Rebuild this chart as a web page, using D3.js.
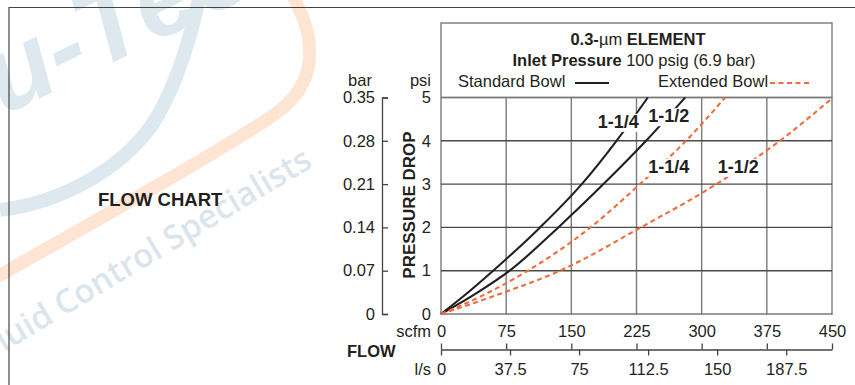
<!DOCTYPE html>
<html><head><meta charset="utf-8">
<script src="https://cdn.jsdelivr.net/npm/d3@7"></script>
<style>
html,body{margin:0;padding:0;background:#fff;}
svg{display:block;font-family:"Liberation Sans",Arial,Helvetica,sans-serif;}
</style></head>
<body>
<svg id="c" width="855" height="385"></svg>
<script>
// ---- data ----
const scfmTicks = [0, 75, 150, 225, 300, 375, 450];
const lpsTicks = [0, 37.5, 75, 112.5, 150, 187.5];
const psiTicks = [0, 1, 2, 3, 4, 5];
const barTicks = [0, 0.07, 0.14, 0.21, 0.28, 0.35];
const seriesNames = ["Standard 1-1/4", "Standard 1-1/2", "Extended 1-1/4", "Extended 1-1/2"];
const std114 = [[0,0],[30,0.48],[60,1.0],[114,2.0],[162,3.0],[202,4.0],[238,5.0]];
const std112 = [[0,0],[40,0.47],[79,1.0],[135,2.0],[187,3.0],[236,4.0],[281,5.0]];
const ext114 = [[0,0],[45,0.4],[100,1.0],[172,2.0],[229,3.0],[282,4.0],[327,5.0]];
const ext112 = [[0,0],[70,0.48],[137,1.0],[230,2.0],[317,3.0],[390,4.0],[450,4.98]];
const curveLabels = [
  {text:"1-1/4", scfm:204, psi:4.30},
  {text:"1-1/2", scfm:262, psi:4.43},
  {text:"1-1/4", scfm:262, psi:3.26},
  {text:"1-1/2", scfm:342, psi:3.26}
];
const LPS_PER_SCFM = 1/2.1189;

// ---- setup ----
const svg = d3.select("#c");
const ink = "#231f20", orange = "#f26b3a", grid = "#7a7a7a";
const x = d3.scaleLinear().domain([0,450]).range([441,832]);
const xl = d3.scaleLinear().domain([0,450*LPS_PER_SCFM]).range([441,832]);
const y = d3.scaleLinear().domain([0,5]).range([314,97.5]);
const yb = d3.scaleLinear().domain([0,0.35]).range([314,97.5]);

// ---- watermark ----
const wm = svg.append("g").attr("class","watermark");
wm.append("text").attr("transform","translate(-66,150) rotate(-26)")
  .attr("font-size",108).attr("font-weight","bold").attr("font-style","italic")
  .attr("fill","#dde8ef").text("Nu-Tec");
wm.append("path").attr("d","M-5,278 C100,218 220,152 275,114 C318,84 318,40 292,-5")
  .attr("fill","none").attr("stroke","#fde4d3").attr("stroke-width",13);
wm.append("path").attr("d","M0,210 C60,203 120,170 152,125 C175,90 190,40 200,-5")
  .attr("fill","none").attr("stroke","#dee8ef").attr("stroke-width",14);
wm.append("text").attr("transform","translate(314,166) rotate(-31)")
  .attr("text-anchor","end").attr("font-family","'Open Sans',sans-serif")
  .attr("font-size",33).attr("font-weight",600).attr("fill","#dbe5ec")
  .text("Fluid Control Specialists");

// ---- frame ----
svg.append("path").attr("d","M9,385 V7.5 H855").attr("fill","none").attr("stroke","#444").attr("stroke-width",1.2);

// ---- header box ----
svg.append("rect").attr("x",441).attr("y",23).attr("width",391).attr("height",74.5)
  .attr("fill","#fff").attr("stroke",grid).attr("stroke-width",1.4);
const h1 = svg.append("text").attr("x",638).attr("y",45).attr("text-anchor","middle")
  .attr("font-size",16.5).attr("fill",ink);
h1.append("tspan").attr("font-weight","bold").text("0.3-");
h1.append("tspan").text("\u00b5m");
h1.append("tspan").attr("font-weight","bold").text(" ELEMENT");
const h2 = svg.append("text").attr("x",634).attr("y",66).attr("text-anchor","middle")
  .attr("font-size",16.5).attr("fill",ink);
h2.append("tspan").attr("font-weight","bold").text("Inlet Pressure");
h2.append("tspan").text(" 100 psig (6.9 bar)");
svg.append("text").attr("x",458).attr("y",87).attr("font-size",16.5).attr("fill",ink).text("Standard Bowl");
svg.append("line").attr("x1",575).attr("x2",609).attr("y1",83).attr("y2",83).attr("stroke",ink).attr("stroke-width",2);
svg.append("text").attr("x",658).attr("y",87).attr("font-size",16.5).attr("fill",ink).text("Extended Bowl");
svg.append("line").attr("x1",770).attr("x2",810).attr("y1",83).attr("y2",83).attr("stroke",orange).attr("stroke-width",2).attr("stroke-dasharray","5,3.5");

// ---- grid ----
const g = svg.append("g");
g.selectAll("line.v").data(scfmTicks).join("line").attr("class","v")
  .attr("x1",d=>x(d)).attr("x2",d=>x(d)).attr("y1",y(5)).attr("y2",y(0)+1)
  .attr("stroke",grid).attr("stroke-width",1.4);
g.selectAll("line.h").data(psiTicks).join("line").attr("class","h")
  .attr("x1",x(0)).attr("x2",x(450)).attr("y1",d=>y(d)).attr("y2",d=>y(d))
  .attr("stroke",d=>(d===0||d===5)?grid:"#4a4a4a").attr("stroke-width",1.4);

// ---- curves ----
const line = d3.line().x(d=>x(d[0])).y(d=>y(d[1])).curve(d3.curveMonotoneX);
const series = [
  {name:seriesNames[0], data:std114, color:ink, dash:null},
  {name:seriesNames[1], data:std112, color:ink, dash:null},
  {name:seriesNames[2], data:ext114, color:orange, dash:"5,3.5"},
  {name:seriesNames[3], data:ext112, color:orange, dash:"5,3.5"}
];
svg.append("g").selectAll("path").data(series).join("path")
  .attr("d",d=>line(d.data)).attr("fill","none")
  .attr("stroke",d=>d.color).attr("stroke-width",2.1)
  .attr("stroke-dasharray",d=>d.dash);

// ---- curve labels with knockout ----
const lg = svg.append("g");
curveLabels.forEach(l=>{
  const t = lg.append("text").attr("x",x(l.scfm)).attr("y",y(l.psi)).attr("text-anchor","middle")
    .attr("font-size",18).attr("font-weight","bold").attr("fill",ink).text(l.text);
  const b = t.node().getBBox();
  lg.insert("rect","text").attr("x",b.x-2).attr("y",b.y+2).attr("width",b.width+4).attr("height",b.height-2).attr("fill","#fff");
});

// ---- axes ----
const fmtBar = d=> d===0 ? "0" : d3.format(".2f")(d);
const barAx = svg.append("g").attr("transform","translate(382,0)")
  .call(d3.axisLeft(yb).tickValues(barTicks).tickFormat(fmtBar).tickSizeInner(-6).tickSizeOuter(-6).tickPadding(7));
const psiAx = svg.append("g").attr("transform","translate(441,0)")
  .call(d3.axisLeft(y).tickValues(psiTicks).tickFormat(d3.format("d")).tickSize(0).tickPadding(10));
psiAx.select(".domain").remove();
const scfmAx = svg.append("g").attr("transform","translate(0,314)")
  .call(d3.axisBottom(x).tickValues(scfmTicks).tickFormat(d3.format("d")).tickSize(0).tickPadding(11));
scfmAx.select(".domain").remove();
const lpsAx = svg.append("g").attr("transform","translate(0,349.5)")
  .call(d3.axisBottom(xl).tickValues(lpsTicks).tickSizeInner(6).tickSizeOuter(0).tickPadding(8).tickFormat(d3.format("")));
const upAx = svg.append("g").attr("transform","translate(0,349.5)")
  .call(d3.axisTop(x).tickValues(scfmTicks).tickSizeInner(6).tickSizeOuter(0).tickFormat(""));
upAx.select(".domain").remove();
[barAx,psiAx,scfmAx,lpsAx,upAx].forEach(a=>{
  a.attr("font-family",null).attr("font-size",null);
  a.selectAll("text").attr("font-size",16.5).attr("fill",ink);
  a.selectAll("line,path").attr("stroke","#444").attr("stroke-width",1.3);
});

// ---- axis titles ----
const tt = (txt,xx,yy,anchor,bold,size)=>svg.append("text").attr("x",xx).attr("y",yy)
  .attr("text-anchor",anchor).attr("font-size",size||16.5).attr("font-weight",bold?"bold":null).attr("fill",ink).text(txt);
tt("bar",360,86,"middle");
tt("psi",431,86,"end");
tt("scfm",431,337,"end");
tt("l/s",431,375,"end");
tt("FLOW",347,357,"start",true);
tt("FLOW CHART",98,206,"start",true,18.5);
svg.append("text").attr("transform","translate(415,205) rotate(-90)").attr("text-anchor","middle")
  .attr("font-size",17).attr("font-weight","bold").attr("fill",ink).text("PRESSURE DROP");
</script>
</body></html>
